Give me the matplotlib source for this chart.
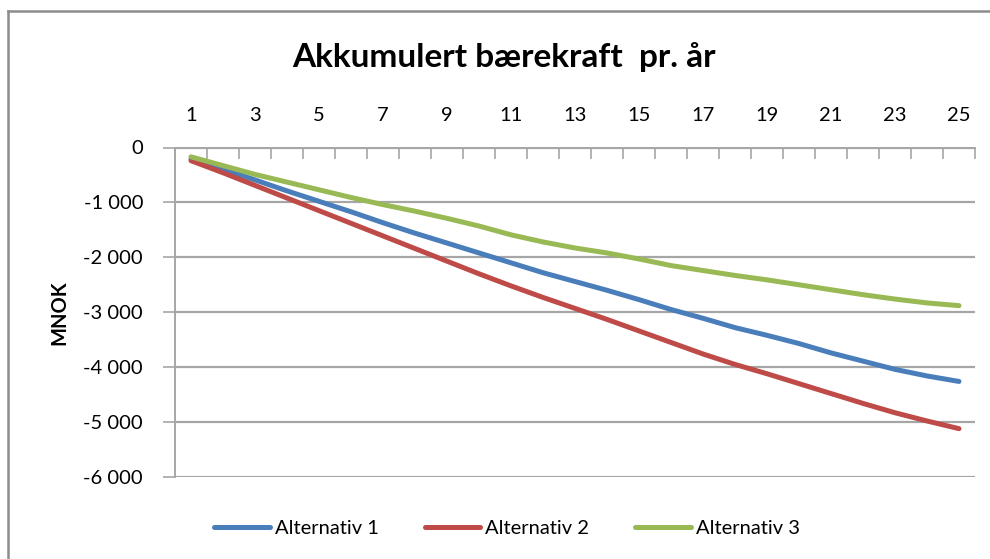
import matplotlib.pyplot as plt
from matplotlib.lines import Line2D
from matplotlib.ticker import FuncFormatter, MultipleLocator

plt.rcParams['font.family'] = ['Lato', 'DejaVu Sans']

# Accumulated sustainability per year (MNOK), years 1-25
years = list(range(1, 26))
alt1 = [-205, -390, -590, -790, -980, -1170, -1370, -1560, -1740, -1920,
        -2100, -2280, -2440, -2600, -2770, -2950, -3110, -3280, -3420, -3570,
        -3740, -3890, -4040, -4160, -4260]
alt2 = [-240, -460, -690, -920, -1150, -1380, -1610, -1840, -2070, -2300,
        -2520, -2730, -2930, -3130, -3340, -3550, -3760, -3950, -4120, -4300,
        -4480, -4660, -4830, -4980, -5120]
alt3 = [-170, -330, -490, -630, -770, -910, -1040, -1160, -1290, -1430,
        -1590, -1720, -1830, -1920, -2030, -2150, -2240, -2330, -2410, -2500,
        -2590, -2680, -2760, -2830, -2880]
series_names = ['Alternativ 1', 'Alternativ 2', 'Alternativ 3']
colors = ['#4A7EBB', '#BE4B48', '#98B954']

W, H = 990, 559
fig = plt.figure(figsize=(W / 100, H / 100), dpi=100)
ax = fig.add_axes([175 / W, 1 - 477 / H, (975 - 175) / W, (477 - 147.5) / H])

for vals, name, c in zip([alt1, alt2, alt3], series_names, colors):
    ax.plot(years, vals, color=c, lw=3.6, label=name, solid_capstyle='round')

ax.set_xlim(0.5, 25.5)
ax.set_ylim(-6000, 0)

grid_c = '#A6A6A6'
ax.yaxis.set_major_locator(MultipleLocator(1000))
ax.yaxis.set_major_formatter(FuncFormatter(lambda v, p: f"{int(v):,}".replace(',', ' ')))
ax.grid(axis='y', color=grid_c, lw=1.6)
ax.set_axisbelow(True)

# category axis sits on top (value 0), ticks between categories
ax.xaxis.tick_top()
ax.set_xticks(years[::2])
ax.set_xticks([y + 0.5 for y in range(0, 26)], minor=True)
ax.tick_params(axis='x', which='major', length=0, pad=17, labelsize=14.5, colors='black')
ax.tick_params(axis='x', which='minor', length=8, direction='in', color=grid_c, width=1.2)
ax.tick_params(axis='y', length=9, direction='out', color=grid_c, width=1.2,
               labelsize=14.5, pad=14)

for s in ['right', 'bottom']:
    ax.spines[s].set_visible(False)
for s in ['left', 'top']:
    ax.spines[s].set_color(grid_c)
    ax.spines[s].set_linewidth(1.4)

ax.set_ylabel('MNOK', fontsize=14.5, fontweight='bold', labelpad=10)

fig.text(504 / W, 1 - 57 / H, 'Akkumulert bærekraft  pr. år', ha='center', va='center',
         fontsize=24, fontweight='bold')

fig.legend(loc='center', bbox_to_anchor=(507 / W, 1 - 528 / H), ncol=3, frameon=False,
           fontsize=14.5, handlelength=2.75, handletextpad=0.25, columnspacing=2.3)

# chart container border (left and top edges)
frame_c = '#8C8C8C'
fig.add_artist(Line2D([8 / W, 8 / W], [0, 1 - 11 / H], color=frame_c, lw=1.8))
fig.add_artist(Line2D([8 / W, 1], [1 - 11 / H, 1 - 11 / H], color=frame_c, lw=1.8))

fig.savefig('out.png', dpi=100)
